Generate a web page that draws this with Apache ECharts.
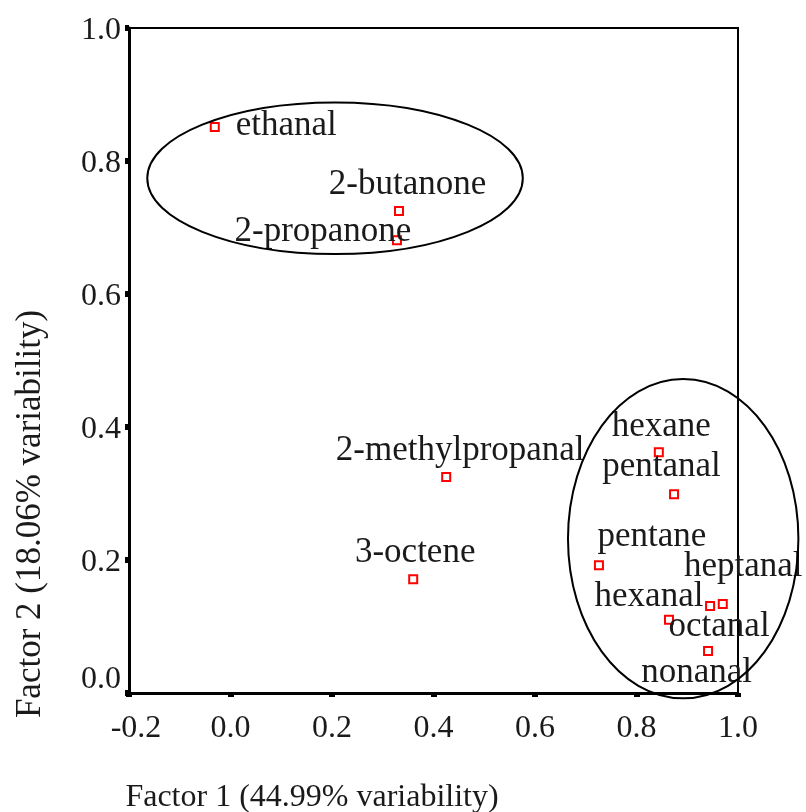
<!DOCTYPE html>
<html><head><meta charset="utf-8">
<script src="https://cdn.jsdelivr.net/npm/echarts@6/dist/echarts.min.js"></script>
<style>html,body{margin:0;padding:0;background:#fff}#c{width:806px;height:812px}</style>
</head><body><div id="c"></div>
<script>
// ---- data ----
const names   = ['ethanal','2-butanone','2-propanone','2-methylpropanal','3-octene','hexane','pentanal','pentane','heptanal','octanal','hexanal','nonanal'];
const factor1 = [-0.031, 0.332, 0.328, 0.425, 0.360, 0.844, 0.874, 0.726, 0.970, 0.945, 0.864, 0.941];
const factor2 = [0.851, 0.725, 0.681, 0.325, 0.171, 0.362, 0.299, 0.192, 0.134, 0.131, 0.110, 0.063];
const xTicks  = ['-0.2','0.0','0.2','0.4','0.6','0.8','1.0'];
const yTicks  = ['0.0','0.2','0.4','0.6','0.8','1.0'];
const xTitle  = 'Factor 1 (44.99% variability)';
const yTitle  = 'Factor 2 (18.06% variability)';
// circled groups, in data units
const groupCenters = [[0.206, 0.774], [0.892, 0.232]];
const groupRadii   = [[0.370, 0.114], [0.227, 0.240]];

// ---- styling (label placement offsets in px) ----
const labelOffsets = {
  'ethanal': [71.5, -1], '2-butanone': [8.5, -26], '2-propanone': [-74, -8],
  '2-methylpropanal': [14, -26], '3-octene': [2, -26], 'hexane': [2.5, -25],
  'pentanal': [-12.5, -27], 'pentane': [53, -29], 'heptanal': [20.5, -37],
  'hexanal': [-20, -23], 'octanal': [9, 21], 'nonanal': [-11.5, 22]
};
const FONT = '"Liberation Serif", "Times New Roman", serif';
const TXT = '#1a1a1a';

const chart = echarts.init(document.getElementById('c'), null, {renderer: 'canvas'});
const seriesData = names.map((n, i) => ({
  name: n,
  value: [factor1[i], factor2[i]],
  label: {offset: labelOffsets[n]}
}));

chart.setOption({
  animation: false,
  backgroundColor: '#fff',
  grid: {left: 129, right: 68, top: 28, bottom: 119, show: true, borderColor: '#000', borderWidth: 2, outerBoundsMode: 'none'},
  xAxis: {
    type: 'value', min: -0.2, max: 1.0, interval: 0.2,
    axisLine: {show: true, onZero: false, lineStyle: {color: '#000', width: 3}},
    axisTick: {show: true, inside: false, length: 4, lineStyle: {color: '#000', width: 6}},
    splitLine: {show: false},
    axisLabel: {margin: 20, fontFamily: FONT, fontSize: 32, color: TXT,
      formatter: (v, i) => i === 0 ? '{neg|' + xTicks[i] + '}' : xTicks[i],
      rich: {neg: {padding: [0, 0, 0, 14], fontFamily: FONT, fontSize: 32, color: TXT}}}
  },
  yAxis: {
    type: 'value', min: 0, max: 1.0, interval: 0.2,
    axisLine: {show: true, onZero: false, lineStyle: {color: '#000', width: 3}},
    axisTick: {show: true, inside: false, length: 4, lineStyle: {color: '#000', width: 6}},
    splitLine: {show: false},
    axisLabel: {margin: 8, fontFamily: FONT, fontSize: 32, color: TXT,
      formatter: (v, i) => i === 0 ? '{z|' + yTicks[i] + '}' : '{n|' + yTicks[i] + '}',
      rich: {
        n: {padding: [6, 0, 0, 0], fontFamily: FONT, fontSize: 32, color: TXT},
        z: {padding: [0, 0, 26, 0], fontFamily: FONT, fontSize: 32, color: TXT}
      }}
  },
  series: [{
    type: 'scatter',
    clip: false,
    symbol: 'rect',
    symbolSize: 8,
    itemStyle: {color: '#fff', borderColor: '#ff0000', borderWidth: 2, opacity: 1},
    label: {show: true, position: 'inside', formatter: '{b}', fontFamily: FONT, fontSize: 35,
      color: TXT, align: 'center', verticalAlign: 'middle'},
    emphasis: {disabled: true},
    data: seriesData,
    z: 5
  }]
});

function px(p) { return chart.convertToPixel({gridIndex: 0}, p); }
const ellipses = groupCenters.map((c, i) => {
  const pc = px(c);
  const pr = px([c[0] + groupRadii[i][0], c[1] + groupRadii[i][1]]);
  return {
    type: 'ellipse', z: 10, silent: true,
    shape: {cx: pc[0], cy: pc[1], rx: Math.abs(pr[0] - pc[0]), ry: Math.abs(pr[1] - pc[1])},
    style: {fill: null, stroke: '#000', lineWidth: 2}
  };
});
chart.setOption({
  graphic: ellipses.concat([
    {type: 'text', x: 312, y: 798, silent: true,
      style: {text: xTitle, font: '32px ' + FONT, fill: TXT, align: 'center', verticalAlign: 'middle'}},
    {type: 'text', x: 31, y: 514, rotation: Math.PI / 2, silent: true,
      style: {text: yTitle, font: '35px ' + FONT, fill: TXT, align: 'center', verticalAlign: 'middle'}}
  ])
});
</script></body></html>
